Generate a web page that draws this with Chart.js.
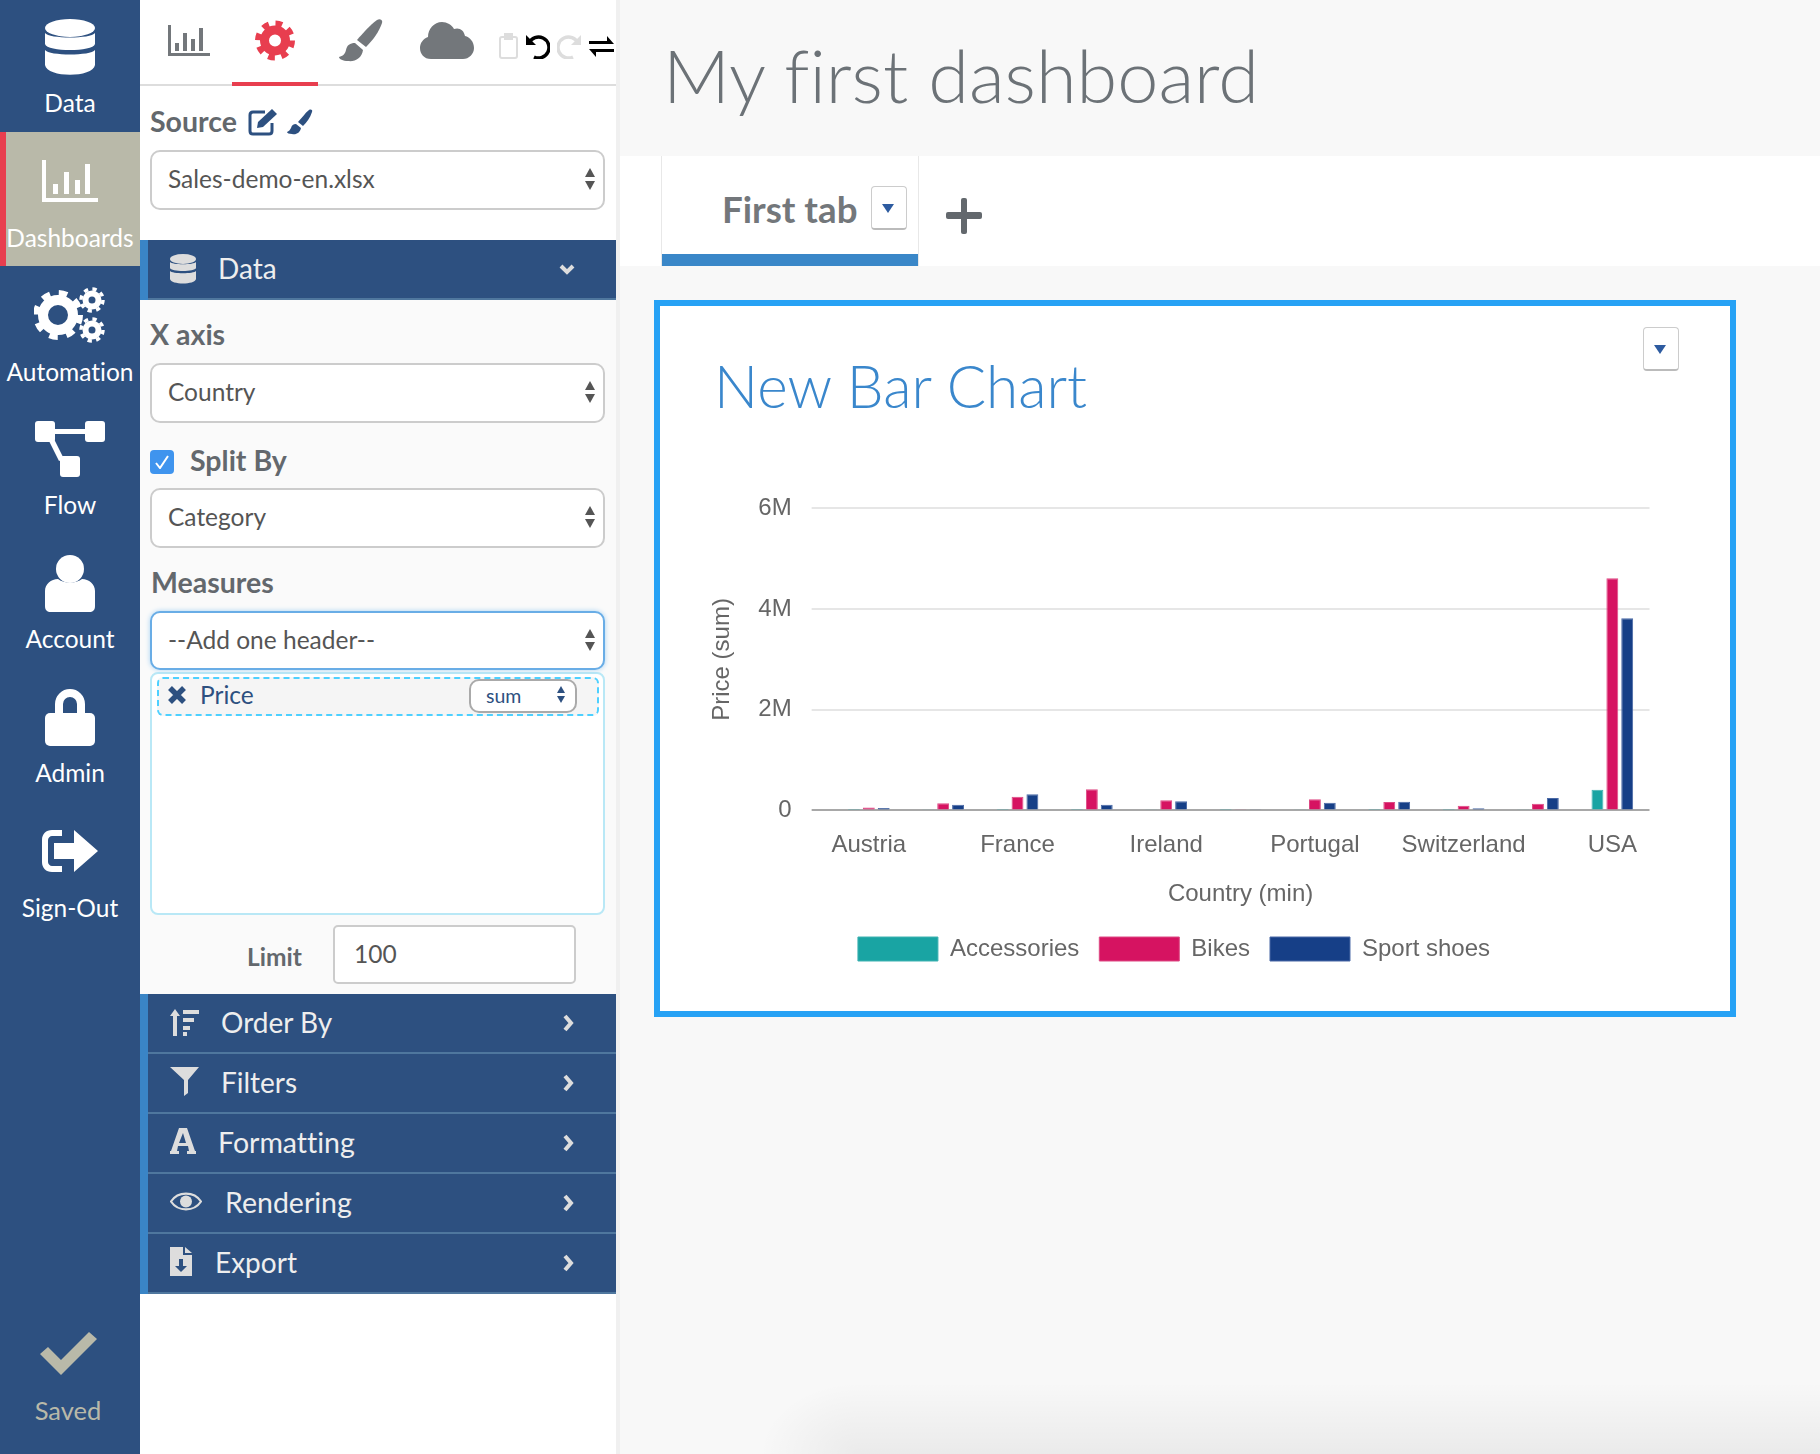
<!DOCTYPE html>
<html>
<head>
<meta charset="utf-8">
<title>My first dashboard</title>
<script src="https://cdn.jsdelivr.net/npm/chart.js@4"></script>
<style>
  html, body { margin: 0; padding: 0; }
  body { width: 1820px; height: 1454px; position: relative; overflow: hidden; background: #f8f8f8; font-family: Lato, sans-serif; color: #555; font-variant-ligatures: none; }
  .abs, .t, .sel, .acc, .nav, svg.i { position: absolute; }
  .t { white-space: nowrap; line-height: 1; }
  .b { font-weight: 700; color: #63686d; font-size: 28.5px; }
  .nav { left: 0; width: 140px; text-align: center; color: #fff; font-size: 24.5px; line-height: 1; }
  .sel { left: 150px; width: 451px; height: 56px; background: #fff; border: 2px solid #ccc; border-radius: 10px; }
  .sel span { position: absolute; left: 16px; top: 12px; font-size: 24.5px; color: #555; }
  .sel::before { content: ''; position: absolute; right: 8px; top: 16px; border: 5.5px solid transparent; border-bottom: 9px solid #555; border-top: 0; }
  .sel::after { content: ''; position: absolute; right: 8px; top: 29px; border: 5.5px solid transparent; border-top: 9px solid #555; border-bottom: 0; }
  .sel.small::before { right: 10px; top: 5px; border-width: 4.5px; border-bottom: 7px solid #2d5080; border-top: 0; }
  .sel.small::after { right: 10px; top: 15px; border-width: 4.5px; border-top: 7px solid #2d5080; border-bottom: 0; }
  .acc { left: 140px; width: 476px; height: 58px; background: #2d5080; border-bottom: 2px solid #4f779e; color: #eee; }
  .acc::before { content: ''; position: absolute; left: 0; top: 0; bottom: -2px; width: 8px; background: #3a85c6; }
  .acc .t { font-size: 28px; top: 14px; }
  .drop { position: absolute; width: 34px; height: 41px; background: #fff; border: 1px solid #ccc; border-bottom: 2px solid #bbb; border-radius: 4px; }
  .drop::after { content: ''; position: absolute; left: 10px; top: 17px; border: 6.5px solid transparent; border-top: 9px solid #2d5ba0; border-bottom: 0; }
  #chartCanvas { position: absolute; left: 698px; top: 474px; }
</style>
</head>
<body>
<!-- shade along the bottom edge -->
<div class="abs" style="left:860px;top:1382px;width:960px;height:72px;background:linear-gradient(rgba(0,0,0,0),rgba(0,0,0,.055))"></div>
<div class="abs" style="left:760px;top:1382px;width:100px;height:72px;background:radial-gradient(ellipse 100px 72px at 100% 100%,rgba(0,0,0,.055),rgba(0,0,0,0))"></div>

<!-- left nav -->
<div class="abs" style="left:0;top:0;width:140px;height:1454px;background:#2d5080"></div>
<div class="abs" style="left:0;top:132px;width:140px;height:134px;background:#b9b9a9"></div>
<div class="abs" style="left:0;top:132px;width:6px;height:134px;background:#e83e4f"></div>

<svg class="i" style="left:45px;top:19px" width="50" height="56" viewBox="0 0 50 56" fill="#fff"><ellipse cx="25" cy="9" rx="25" ry="9"/><path d="M0 14c4 6 46 6 50 0v11c-2 8-48 8-50 0zM0 31c4 6 46 6 50 0v15c-2 13-48 13-50 0z"/></svg>
<div class="nav" style="top:91px">Data</div>

<svg class="i" style="left:42px;top:160px" width="56" height="42" viewBox="0 0 56 42" fill="#fff"><path d="M0 0h4v38h52v4H0z"/><rect x="11" y="24" width="5" height="10"/><rect x="22" y="12" width="5" height="22"/><rect x="33" y="20" width="5" height="14"/><rect x="43" y="4" width="5" height="30"/></svg>
<div class="nav" style="top:226px">Dashboards</div>

<svg class="i" style="left:34px;top:286px" width="72" height="58" viewBox="0 0 72 58" fill="#fff">
  <circle cx="24" cy="29" r="15" fill="none" stroke="#fff" stroke-width="10"/><circle cx="24" cy="29" r="22" fill="none" stroke="#fff" stroke-width="6" stroke-dasharray="8.5 8.8"/>
  <circle cx="58" cy="14" r="6.5" fill="none" stroke="#fff" stroke-width="6"/><circle cx="58" cy="14" r="11" fill="none" stroke="#fff" stroke-width="3.5" stroke-dasharray="4.3 4.35"/>
  <circle cx="58" cy="44" r="6.5" fill="none" stroke="#fff" stroke-width="6"/><circle cx="58" cy="44" r="11" fill="none" stroke="#fff" stroke-width="3.5" stroke-dasharray="4.3 4.35"/>
</svg>
<div class="nav" style="top:360px">Automation</div>

<svg class="i" style="left:35px;top:421px" width="70" height="56" viewBox="0 0 70 56" fill="#fff"><rect width="20" height="21" rx="3"/><rect x="50" width="20" height="21" rx="3"/><rect x="25" y="35" width="20" height="21" rx="3"/><path d="M18 8h34v5H18zM13 18l5-2 11 22-5 2z"/></svg>
<div class="nav" style="top:493px">Flow</div>

<svg class="i" style="left:45px;top:555px" width="50" height="57" viewBox="0 0 50 57" fill="#fff"><ellipse cx="25" cy="14" rx="14" ry="14"/><path d="M0 36c0-7 6-12 13-12 7 5 17 5 24 0 7 0 13 5 13 12v15c0 4-2 6-6 6H6c-4 0-6-2-6-6z"/></svg>
<div class="nav" style="top:627px">Account</div>

<svg class="i" style="left:45px;top:689px" width="50" height="57" viewBox="0 0 50 57" fill="#fff"><path d="M10 26V15a15 15 0 0 1 30 0v11h-8V15a7 7 0 0 0-14 0v11z"/><rect y="24" width="50" height="33" rx="5"/></svg>
<div class="nav" style="top:761px">Admin</div>

<svg class="i" style="left:42px;top:830px" width="56" height="42" viewBox="0 0 56 42" fill="#fff"><path d="M20 0H10C4 0 0 4 0 10v22c0 6 4 10 10 10h10v-6H10c-2 0-4-2-4-4V10c0-2 2-4 4-4h10z"/><path d="M12 13h20V0l24 21-24 21V29H12z"/></svg>
<div class="nav" style="top:896px">Sign-Out</div>

<svg class="i" style="left:40px;top:1332px" width="57" height="43" viewBox="0 0 57 43" fill="#b9b9a9"><path d="M0 22l8-7 13 13L49 0l8 7-36 36z"/></svg>
<div class="nav" style="top:1398px;left:-2px;color:#b9b9a9;font-size:25.5px">Saved</div>

<!-- side panel -->
<div class="abs" style="left:140px;top:0;width:476px;height:1454px;background:#fff"></div>
<div class="abs" style="left:616px;top:0;width:4px;height:1454px;background:#f0f0f0"></div>
<div class="abs" style="left:140px;top:300px;width:476px;height:694px;background:#fafafa"></div>
<div class="abs" style="left:140px;top:84px;width:476px;height:2px;background:#ddd"></div>
<div class="abs" style="left:232px;top:82px;width:86px;height:4px;background:#e83e4f"></div>

<svg class="i" style="left:168px;top:25px" width="42" height="31" viewBox="0 0 42 31" fill="#73777b"><path d="M0 0h3v28h39v3H0z"/><rect x="7" y="18" width="4" height="8"/><rect x="15" y="8" width="4" height="18"/><rect x="23" y="14" width="4" height="12"/><rect x="31" y="3" width="4" height="23"/></svg>
<svg class="i" style="left:255px;top:20px" width="40" height="41" viewBox="0 0 40 41"><circle cx="20" cy="20.5" r="10.5" fill="none" stroke="#e83e4f" stroke-width="9"/><circle cx="20" cy="20.5" r="17" fill="none" stroke="#e83e4f" stroke-width="6" stroke-dasharray="6.7 6.65"/></svg>
<svg class="i" style="left:339px;top:19px" width="44" height="43" viewBox="0 0 44 43" fill="#73777b"><path d="M38 1c3-2 6 0 5 3-3 9-9 17-16 24l-9-7C24 14 31 6 38 1z"/><path d="M16 24l8 7c-1 8-8 12-15 11-5 0-9-2-9-4 4-1 6-3 7-7 1-5 4-7 9-7z"/></svg>
<svg class="i" style="left:420px;top:22px" width="54" height="37" viewBox="0 0 54 37" fill="#73777b"><path d="M11 37C4 37 0 32 0 26c0-5 3-9 8-11 0-8 6-15 14-15 5 0 10 3 12 7 5-2 10 1 11 7 5 1 9 6 9 12 0 6-5 11-11 11z"/></svg>
<svg class="i" style="left:499px;top:33px" width="20" height="26" viewBox="0 0 20 26" fill="none" stroke="#ddd" stroke-width="2"><rect x="1" y="4" width="17" height="21" rx="2"/><rect x="6" y="1" width="7" height="5" fill="#ddd"/></svg>
<svg class="i" style="left:525px;top:33px" width="25" height="26" viewBox="0 0 25 26" fill="none" stroke="#000" stroke-width="3.5"><path d="M4 10A10.5 10.5 0 1 1 9 24"/><path d="M1 2v10h10" fill="#000" stroke="none"/></svg>
<svg class="i" style="left:557px;top:33px" width="25" height="26" viewBox="0 0 25 26" fill="none" stroke="#ddd" stroke-width="3.5"><path d="M21 10A10.5 10.5 0 1 0 16 24"/><path d="M24 2v10H14" fill="#ddd" stroke="none"/></svg>
<svg class="i" style="left:589px;top:36px" width="25" height="21" viewBox="0 0 25 21" fill="#000"><path d="M18 0l7 8H0V5h18zM7 21l-7-8h25v3H7z"/></svg>

<div class="t b" style="left:150px;top:107px">Source</div>
<svg class="i" style="left:248px;top:107px" width="32" height="29" viewBox="0 0 32 29" fill="none" stroke="#2d5080" stroke-width="3"><path d="M24 16v8c0 2-1 3-3 3H5c-2 0-3-1-3-3V8c0-2 1-3 3-3h12"/><path d="M10 15L24 2l5 5-14 13-6 1z" fill="#2d5080" stroke="none"/></svg>
<svg class="i" style="left:287px;top:109px" width="26" height="26" viewBox="0 0 26 26" fill="#2d5080"><path d="M22 1c2-1 4 0 3 2-2 6-5 10-9 14l-5-4c4-4 7-9 11-12z"/><path d="M9 15l5 4c-1 5-5 7-9 6-3 0-5-1-5-2 2-1 3-2 4-4 1-3 2-4 5-4z"/></svg>

<div class="sel" style="top:150px"><span>Sales-demo-en.xlsx</span></div>

<div class="acc" style="top:240px">
  <svg class="i" style="left:30px;top:14px" width="26" height="30" viewBox="0 0 26 30" fill="#ddd"><ellipse cx="13" cy="5" rx="13" ry="5"/><path d="M0 8c2 3 24 3 26 0v6c-1 4-25 4-26 0zM0 17c2 3 24 3 26 0v8c-1 6-25 6-26 0z"/></svg>
  <div class="t" style="left:78px">Data</div>
  <svg class="i" style="left:419px;top:24px" width="16" height="11" viewBox="0 0 16 11" fill="none" stroke="#ddd" stroke-width="4"><path d="M2 2l6 6 6-6"/></svg>
</div>

<div class="t b" style="left:150px;top:320px">X axis</div>
<div class="sel" style="top:363px"><span>Country</span></div>

<div class="abs" style="left:150px;top:450px;width:24px;height:24px;background:#3f94ee;border-radius:4px"></div>
<svg class="i" style="left:155px;top:455px" width="14" height="14" viewBox="0 0 14 14" fill="none" stroke="#fff" stroke-width="2"><path d="M1 8l4 5 8-12"/></svg>
<div class="t b" style="left:190px;top:446px">Split By</div>
<div class="sel" style="top:488px"><span>Category</span></div>

<div class="t b" style="left:151px;top:568px">Measures</div>
<div class="abs" style="left:150px;top:672px;width:451px;height:239px;background:#fff;border:2px solid #b9e8f6;border-radius:8px"></div>
<div class="sel" style="top:611px;height:55px;border-color:#69ade6;box-shadow:0 0 5px #a6d2f3"><span>--Add one header--</span></div>
<div class="abs" style="left:157px;top:677px;width:438px;height:35px;background:#f5f5f5;border:2px dashed #4dd0ff;border-radius:6px"></div>
<svg class="i" style="left:168px;top:686px" width="18" height="18" viewBox="0 0 18 18" fill="none" stroke="#2d5080" stroke-width="5.5"><path d="M2 2l14 14M16 2L2 16"/></svg>
<div class="t" style="left:200px;top:683px;font-size:24.5px;color:#2d5080">Price</div>
<div class="sel small" style="left:469px;top:679px;width:104px;height:30px;border-color:#aaa"><span style="left:15px;top:3px;font-size:19.5px;color:#2d5080">sum</span></div>
<div class="t b" style="left:247px;top:945px;font-size:24.5px">Limit</div>
<div class="abs" style="left:333px;top:925px;width:239px;height:55px;background:#fff;border:2px solid #ccc;border-radius:5px"></div>
<div class="t" style="left:354px;top:942px;font-size:24.5px;color:#555">100</div>

<div class="acc" style="top:994px">
  <svg class="i" style="left:30px;top:15px" width="30" height="27" viewBox="0 0 30 27" fill="#ddd"><path d="M5 0l5 7H7v20H3V7H0zM13 1h16v4H13zM13 9h11v4H13zM13 17h7v4h-7zM13 23h4v4h-4z"/></svg>
  <div class="t" style="left:81px">Order By</div>
  <svg class="i" style="left:423px;top:20px" width="12" height="18" viewBox="0 0 12 18" fill="none" stroke="#ddd" stroke-width="4"><path d="M2 2l6 7-6 7"/></svg>
</div>
<div class="acc" style="top:1054px">
  <svg class="i" style="left:30px;top:13px" width="29" height="29" viewBox="0 0 29 29" fill="#ddd"><path d="M0 0h29L18 13v13l-4 3V13z"/></svg>
  <div class="t" style="left:81px">Filters</div>
  <svg class="i" style="left:423px;top:20px" width="12" height="18" viewBox="0 0 12 18" fill="none" stroke="#ddd" stroke-width="4"><path d="M2 2l6 7-6 7"/></svg>
</div>
<div class="acc" style="top:1114px">
  <svg class="i" style="left:30px;top:14px" width="26" height="26" viewBox="0 0 26 26" fill="#ddd"><path d="M9 0h8l8 23h1v3h-9v-3h2l-1-5H8l-1 5h2v3H0v-3h1zM13 5l-4 10h7z"/></svg>
  <div class="t" style="left:78px;font-size:28.5px">Formatting</div>
  <svg class="i" style="left:423px;top:20px" width="12" height="18" viewBox="0 0 12 18" fill="none" stroke="#ddd" stroke-width="4"><path d="M2 2l6 7-6 7"/></svg>
</div>
<div class="acc" style="top:1174px">
  <svg class="i" style="left:30px;top:17px" width="32" height="21" viewBox="0 0 32 21"><path d="M1 10.5C8 0 24 0 31 10.5 24 21 8 21 1 10.5z" fill="none" stroke="#ddd" stroke-width="2.2"/><circle cx="16" cy="10.5" r="6" fill="#ddd"/></svg>
  <div class="t" style="left:85px;font-size:28.5px">Rendering</div>
  <svg class="i" style="left:423px;top:20px" width="12" height="18" viewBox="0 0 12 18" fill="none" stroke="#ddd" stroke-width="4"><path d="M2 2l6 7-6 7"/></svg>
</div>
<div class="acc" style="top:1234px">
  <svg class="i" style="left:30px;top:13px" width="22" height="29" viewBox="0 0 22 29" fill="#ddd"><path d="M0 0h13v8h9v21H0z"/><path d="M15 0l7 6h-7z"/><path d="M9 12h4v7h4l-6 6-6-6h4z" fill="#2d5080"/></svg>
  <div class="t" style="left:75px">Export</div>
  <svg class="i" style="left:423px;top:20px" width="12" height="18" viewBox="0 0 12 18" fill="none" stroke="#ddd" stroke-width="4"><path d="M2 2l6 7-6 7"/></svg>
</div>

<!-- main area -->
<div class="t" style="left:663px;top:38px;font-size:73.8px;font-weight:300;color:#6c7277">My first dashboard</div>
<div class="abs" style="left:620px;top:156px;width:1200px;height:110px;background:#fff"></div>
<div class="abs" style="left:661px;top:156px;width:256px;height:110px;background:#fff;border-left:1px solid #e8e8e8;border-right:1px solid #e8e8e8"></div>
<div class="abs" style="left:662px;top:254px;width:256px;height:12px;background:#3a87c8"></div>
<div class="t" style="left:722px;top:191px;font-size:36.7px;font-weight:700;color:#73777b">First tab</div>
<div class="drop" style="left:871px;top:186px"></div>
<svg class="i" style="left:946px;top:198px" width="36" height="36" viewBox="0 0 36 36" fill="#63686d"><rect x="15" width="6" height="36" rx="2"/><rect y="14" width="36" height="7" rx="2"/></svg>

<div class="abs" style="left:654px;top:300px;width:1070px;height:705px;background:#fff;border:6px solid #27a2f5"></div>
<div class="t" style="left:714px;top:356px;font-size:58.4px;font-weight:300;color:#3a87cc">New Bar Chart</div>
<div class="drop" style="left:1643px;top:327px"></div>

<canvas id="chartCanvas" width="952" height="497"></canvas>

<script>
const countries = ['Austria', 'Belgium', 'France', 'Germany', 'Ireland', 'Italy', 'Portugal', 'Spain', 'Switzerland', 'UK', 'USA'];
const accessories = [10000, 12000, 30000, 10000, 15000, 4000, 12000, 10000, 4000, 12000, 410000];
const bikes = [60000, 140000, 270000, 420000, 200000, 25000, 220000, 165000, 90000, 130000, 4610000];
const sportShoes = [50000, 110000, 320000, 110000, 180000, 25000, 150000, 170000, 45000, 245000, 3820000];
const yTicks = [0, 2000000, 4000000, 6000000];

const gridColor = '#e6e6e6';
const zeroColor = '#a8a8a8';
const textColor = '#666';
const chartFont = { family: '"Liberation Sans", Arial, sans-serif', size: 24 };

const makeSet = (label, data, color, edge) => ({
  label,
  data,
  backgroundColor: color,
  borderColor: edge,
  borderWidth: 1,
  categoryPercentage: 0.6,
  barPercentage: 0.8
});

new Chart(document.getElementById('chartCanvas'), {
  type: 'bar',
  data: {
    labels: countries,
    datasets: [
      makeSet('Accessories', accessories, '#19a4a3', '#3fb2b1'),
      makeSet('Bikes', bikes, '#d61361', '#dd4a84'),
      makeSet('Sport shoes', sportShoes, '#163f87', '#4a69a6')
    ]
  },
  options: {
    responsive: false,
    animation: false,
    devicePixelRatio: 1,
    plugins: {
      legend: {
        position: 'bottom',
        labels: { boxWidth: 80, boxHeight: 24, padding: 20, color: textColor, font: chartFont }
      },
      tooltip: { enabled: false }
    },
    scales: {
      x: {
        grid: { display: false },
        border: { display: false },
        ticks: { color: textColor, font: chartFont, padding: 13, maxRotation: 0, autoSkip: true },
        title: { display: true, text: 'Country (min)', color: textColor, font: chartFont, padding: { top: 7, bottom: 8 } }
      },
      y: {
        min: 0,
        max: 6000000,
        afterBuildTicks: (axis) => { axis.ticks = yTicks.map((value) => ({ value })); },
        grid: {
          lineWidth: 2,
          tickLength: 20,
          color: (ctx) => (ctx.tick && ctx.tick.value === 0 ? zeroColor : gridColor)
        },
        border: { display: false },
        ticks: {
          color: textColor,
          font: chartFont,
          padding: 20,
          callback: (value) => (value === 0 ? '0' : `${value / 1000000}M`)
        },
        title: { display: true, text: 'Price (sum)', color: textColor, font: chartFont, padding: { top: 10, bottom: 1.5 } }
      }
    }
  }
});
</script>
</body>
</html>
